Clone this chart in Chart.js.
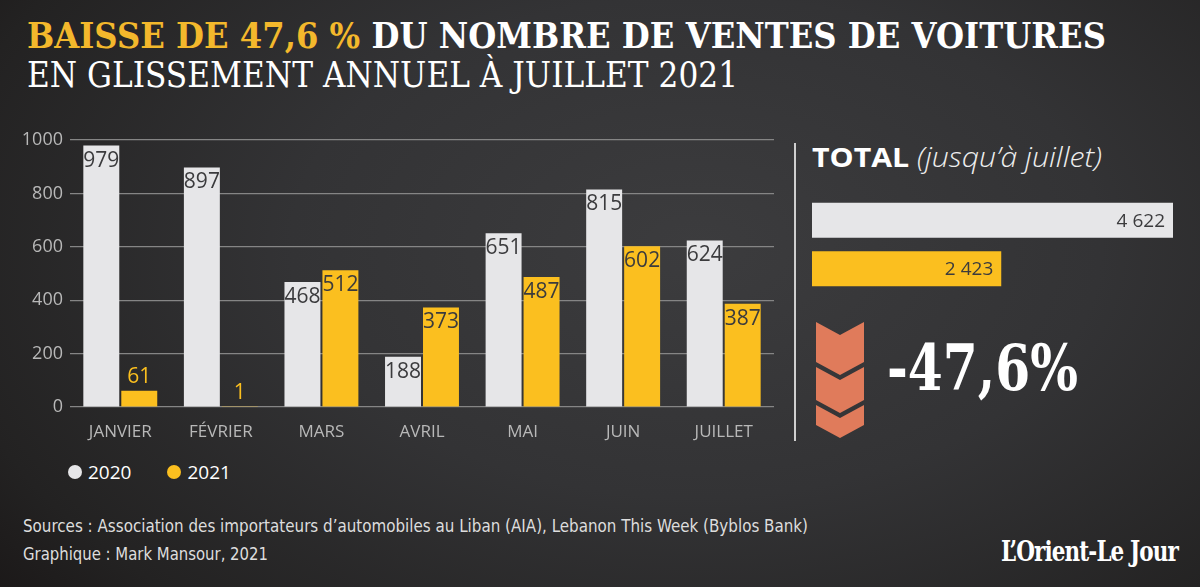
<!DOCTYPE html>
<html lang="fr">
<head>
<meta charset="utf-8">
<title>Ventes de voitures au Liban</title>
<script src="https://cdn.jsdelivr.net/npm/chart.js@4.4.1/dist/chart.umd.min.js"></script>
<style>
    html, body { margin: 0; padding: 0; }
    body {
        width: 1200px; height: 587px; overflow: hidden; position: relative;
        background: radial-gradient(ellipse 75% 95% at 58% 42%, #3c3c3e 0%, #333335 45%, #232222 85%, #1b1818 100%);
        font-family: "Open Sans", sans-serif; color: #fff;
    }
    .fit { position: absolute; white-space: nowrap; transform-origin: 0 0; }
    #title1 { left: 27px; top: 15px; font: bold 35px "DejaVu Serif", serif; color: #fff; }
    #title1 span { color: #f3b82c; }
    #title2 { left: 27px; top: 54px; font: 36px "DejaVu Serif Condensed", "DejaVu Serif", serif; color: #fff; }
    #mainChart { position: absolute; left: 0; top: 120px; }
    #sep { position: absolute; left: 794px; top: 143px; width: 2px; height: 298px; background: #cfcfcf; }
    #totalTitle { left: 812px; top: 138px; font: 27px "Open Sans", sans-serif; color: #fff; }
    #totalTitle b { font-weight: 700; }
    #totalTitle i { font-weight: 300; color: #eee; }
    #totalChart { position: absolute; left: 812px; top: 196px; }
    #chevrons { position: absolute; left: 816px; top: 322px; }
    #pct { left: 887px; top: 330px; font: bold 64px "DejaVu Serif", serif; color: #fff; }
    #legend { position: absolute; left: 68px; top: 459px; display: flex; gap: 36px; font: 19px "Open Sans", sans-serif; color: #fff; }
    #legend .item { display: flex; align-items: center; gap: 6px; }
    #legend .dot { width: 14px; height: 14px; border-radius: 50%; display: inline-block; }
    #src1 { left: 23px; top: 515px; font: 18px "DejaVu Sans Condensed", sans-serif; color: #ddd; }
    #src2 { left: 23px; top: 543px; font: 18px "DejaVu Sans Condensed", sans-serif; color: #ddd; }
    #logo { left: 1001px; top: 535px; font: bold 28px "DejaVu Serif Condensed", "DejaVu Serif", serif; color: #fff; letter-spacing: -1px; }
</style>
</head>
<body>
<div id="title1" class="fit" data-w="1079"><span>BAISSE DE 47,6 %</span> DU NOMBRE DE VENTES DE VOITURES</div>
<div id="title2" class="fit" data-w="711">EN GLISSEMENT ANNUEL À JUILLET 2021</div>

<canvas id="mainChart" width="790" height="330"></canvas>

<div id="sep"></div>
<div id="totalTitle" class="fit" data-w="290"><b>TOTAL</b> <i>(jusqu’à juillet)</i></div>
<canvas id="totalChart" width="361" height="97"></canvas>

<svg id="chevrons" width="48" height="116" viewBox="0 0 48 116">
    <polygon fill="#e07b5b" points="0,0 24,13 48,0 48,40 24,53 0,40"/>
    <polygon fill="#e07b5b" points="0,45 24,58 48,45 48,78 24,91 0,78"/>
    <polygon fill="#e07b5b" points="0,83 24,96 48,83 48,103 24,116 0,103"/>
</svg>
<div id="pct" class="fit" data-w="191">-47,6%</div>

<div id="legend"></div>

<div id="src1" class="fit" data-w="785">Sources : Association des importateurs d’automobiles au Liban (AIA), Lebanon This Week (Byblos Bank)</div>
<div id="src2" class="fit" data-w="245">Graphique : Mark Mansour, 2021</div>
<div id="logo" class="fit" data-w="177">L’Orient-Le Jour</div>

<script>
const mois = ["JANVIER", "FÉVRIER", "MARS", "AVRIL", "MAI", "JUIN", "JUILLET"];
const annees = ["2020", "2021"];
const ventes2020 = [979, 897, 468, 188, 651, 815, 624];
const ventes2021 = [61, 1, 512, 373, 487, 602, 387];
const totaux = [4622, 2423];
const yTicks = [0, 200, 400, 600, 800, 1000];

const GRIS = "#e6e6e8";
const JAUNE = "#fbbf1f";

// étire chaque texte à la largeur mesurée sur l'original
document.querySelectorAll(".fit").forEach((el) => {
    const w = el.getBoundingClientRect().width;
    el.style.transform = `scaleX(${el.dataset.w / w})`;
});

function formatNombre(n) {
    return String(n).replace(/\B(?=(\d{3})+(?!\d))/g, " ");
}

const valueLabels = {
    id: "valueLabels",
    afterDatasetsDraw(chart) {
        const ctx = chart.ctx;
        chart.data.datasets.forEach((ds, i) => {
            chart.getDatasetMeta(i).data.forEach((bar, j) => {
                const v = ds.data[j];
                const h = bar.base - bar.y;
                ctx.save();
                ctx.font = '21px "Open Sans"';
                ctx.textAlign = "center";
                ctx.textBaseline = "middle";
                if (h > 30) {
                    ctx.fillStyle = "#3b3b3d";
                    ctx.fillText(v, bar.x, bar.y + 15);
                } else {
                    ctx.fillStyle = ds.backgroundColor;
                    ctx.fillText(v, bar.x, bar.y - 14);
                }
                ctx.restore();
            });
        });
    },
};

new Chart(document.getElementById("mainChart"), {
    type: "bar",
    data: {
        labels: mois,
        datasets: [
            { label: annees[0], data: ventes2020, backgroundColor: GRIS },
            { label: annees[1], data: ventes2021, backgroundColor: JAUNE },
        ],
    },
    options: {
        responsive: false,
        animation: false,
        events: [],
        categoryPercentage: 0.755,
        barPercentage: 0.947,
        layout: { padding: { top: 20, right: 16, left: 0, bottom: 0 } },
        plugins: { legend: { display: false }, tooltip: { enabled: false } },
        scales: {
            x: {
                grid: { display: false },
                border: { display: false },
                ticks: { color: "#b8b8b8", font: { size: 17, family: "Open Sans" }, padding: 7 },
                afterFit: (s) => { s.height = 43; },
            },
            y: {
                min: 0,
                max: 1000,
                afterBuildTicks: (s) => { s.ticks = yTicks.map((v) => ({ value: v })); },
                grid: { color: "#858585", lineWidth: 1.2, drawTicks: false },
                border: { display: false },
                ticks: {
                    color: "#b8b8b8",
                    font: { size: 18, family: "Open Sans" },
                    padding: 7,
                    callback: (v) => String(v),
                },
                afterFit: (s) => { s.width = 70; },
            },
        },
    },
    plugins: [valueLabels],
});

const totalLabels = {
    id: "totalLabels",
    afterDatasetsDraw(chart) {
        const ctx = chart.ctx;
        chart.getDatasetMeta(0).data.forEach((bar, j) => {
            ctx.save();
            ctx.font = '19px "Open Sans"';
            ctx.textAlign = "right";
            ctx.textBaseline = "middle";
            ctx.fillStyle = "#3b3b3d";
            ctx.fillText(formatNombre(totaux[j]), bar.x - 8, bar.y + 1);
            ctx.restore();
        });
    },
};

new Chart(document.getElementById("totalChart"), {
    type: "bar",
    data: {
        labels: annees,
        datasets: [{ data: totaux, backgroundColor: [GRIS, JAUNE] }],
    },
    options: {
        indexAxis: "y",
        responsive: false,
        animation: false,
        events: [],
        categoryPercentage: 1,
        barPercentage: 0.72,
        layout: { padding: 0 },
        plugins: { legend: { display: false }, tooltip: { enabled: false } },
        scales: {
            x: { display: false, min: 0, max: totaux[0] },
            y: { display: false },
        },
    },
    plugins: [totalLabels],
});

const legend = document.getElementById("legend");
[GRIS, JAUNE].forEach((c, i) => {
    const item = document.createElement("div");
    item.className = "item";
    item.innerHTML = `<span class="dot" style="background:${c}"></span><span>${annees[i]}</span>`;
    legend.appendChild(item);
});
</script>
</body>
</html>
